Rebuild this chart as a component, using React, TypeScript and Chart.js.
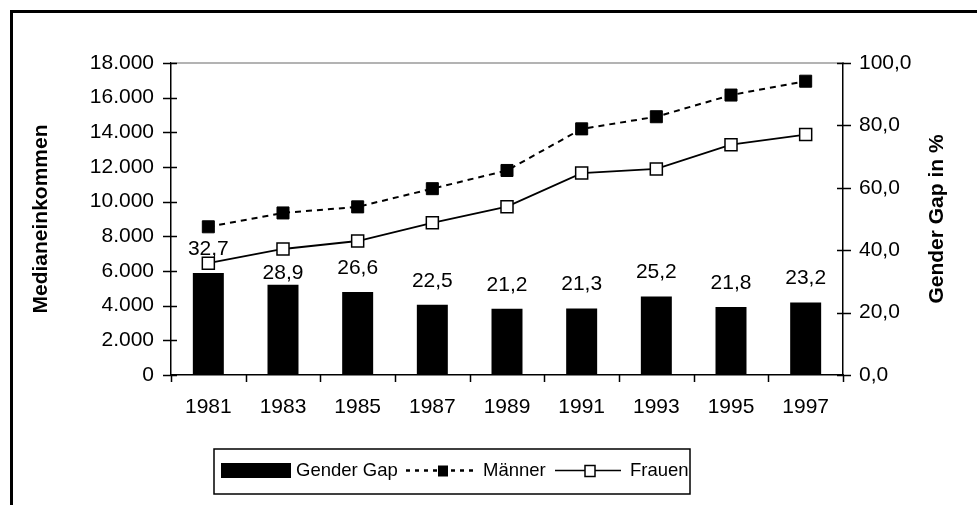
import React, { useEffect, useRef } from "react";
import { Chart, registerables } from "chart.js";

Chart.register(...registerables);

// ---- data ----
const years = ["1981", "1983", "1985", "1987", "1989", "1991", "1993", "1995", "1997"];
const genderGap = [32.7, 28.9, 26.6, 22.5, 21.2, 21.3, 25.2, 21.8, 23.2];
const maenner = [8550, 9350, 9700, 10750, 11800, 14200, 14900, 16150, 16950];
const frauen = [6450, 7270, 7730, 8780, 9710, 11650, 11890, 13290, 13870];

const leftMin = 0;
const leftMax = 18000;
const leftStep = 2000;
const rightMin = 0;
const rightMax = 100;
const rightStep = 20;

const seriesLabels = ["Gender Gap", "Männer", "Frauen"];
const leftTitle = "Medianeinkommen";
const rightTitle = "Gender Gap in %";

const FONT = "'Liberation Sans', Arial, Helvetica, sans-serif";

const fmtLeft = (v: number) => String(Math.round(v)).replace(/\B(?=(\d{3})+(?!\d))/g, ".");
const fmtRight = (v: number) => v.toFixed(1).replace(".", ",");
const fmtGap = (v: number) => v.toFixed(1).replace(".", ",");

const decorPlugin = {
  id: "decor",
  afterDraw(chart: any) {
    const ctx = chart.ctx as CanvasRenderingContext2D;
    const ca = chart.chartArea;
    const ys = chart.scales.y;
    const y1 = chart.scales.y1;
    ctx.save();

    // outer frame
    ctx.strokeStyle = "#000";
    ctx.lineWidth = 3;
    ctx.strokeRect(11.5, 11.5, 1100, 700);

    // top grey line
    ctx.strokeStyle = "#9a9a9a";
    ctx.lineWidth = 1.5;
    ctx.beginPath();
    ctx.moveTo(ca.left, ca.top);
    ctx.lineTo(ca.right, ca.top);
    ctx.stroke();

    // tick marks
    ctx.strokeStyle = "#000";
    ctx.lineWidth = 1.5;
    ctx.beginPath();
    ys.ticks.forEach((t: any) => {
      const p = Math.round(ys.getPixelForValue(t.value)) + 0.5;
      ctx.moveTo(ca.left - 8, p);
      ctx.lineTo(ca.left + 6, p);
    });
    y1.ticks.forEach((t: any) => {
      const p = Math.round(y1.getPixelForValue(t.value)) + 0.5;
      ctx.moveTo(ca.right - 6, p);
      ctx.lineTo(ca.right + 8, p);
    });
    const n = years.length;
    const w = (ca.right - ca.left) / n;
    for (let i = 0; i <= n; i++) {
      const p = Math.round(ca.left + i * w) + 0.5;
      ctx.moveTo(p, ca.bottom);
      ctx.lineTo(p, ca.bottom + 7);
    }
    ctx.stroke();

    // axis titles
    ctx.fillStyle = "#000";
    ctx.font = `bold 21px ${FONT}`;
    ctx.textAlign = "center";
    ctx.textBaseline = "alphabetic";
    const midY = (ca.top + ca.bottom) / 2;
    ctx.save();
    ctx.translate(46.5, midY);
    ctx.rotate(-Math.PI / 2);
    ctx.fillText(leftTitle, 0, 0);
    ctx.restore();
    ctx.save();
    ctx.translate(943, midY);
    ctx.rotate(-Math.PI / 2);
    ctx.fillText(rightTitle, 0, 0);
    ctx.restore();

    // bar value labels
    const meta = chart.getDatasetMeta(0);
    ctx.font = `21px ${FONT}`;
    ctx.textBaseline = "middle";
    ctx.textAlign = "center";
    meta.data.forEach((el: any, i: number) => {
      const lift = i === 1 ? 12 : 24;
      ctx.fillText(fmtGap(genderGap[i]), el.x, el.y - lift);
    });

    // legend
    ctx.lineWidth = 1.5;
    ctx.strokeStyle = "#000";
    ctx.setLineDash([]);
    ctx.strokeRect(214, 449, 476, 45);
    const ly = 470.5;
    ctx.font = `18.5px ${FONT}`;
    ctx.textAlign = "left";
    ctx.textBaseline = "middle";
    ctx.fillStyle = "#000";
    ctx.fillRect(221, 463, 70, 15);
    ctx.fillText(seriesLabels[0], 296, ly);
    // Männer
    ctx.lineWidth = 2.5;
    ctx.setLineDash([4, 5]);
    ctx.beginPath();
    ctx.moveTo(406, ly);
    ctx.lineTo(477, ly);
    ctx.stroke();
    ctx.setLineDash([]);
    ctx.fillRect(438, ly - 5, 10, 11);
    ctx.fillText(seriesLabels[1], 483, ly);
    // Frauen
    ctx.lineWidth = 1.5;
    ctx.beginPath();
    ctx.moveTo(555, ly);
    ctx.lineTo(621, ly);
    ctx.stroke();
    ctx.fillStyle = "#fff";
    ctx.fillRect(585, ly - 5, 10, 11);
    ctx.strokeRect(585, ly - 5, 10, 11);
    ctx.fillStyle = "#000";
    ctx.fillText(seriesLabels[2], 630, ly);

    ctx.restore();
  },
};

export default function App() {
  const ref = useRef<HTMLCanvasElement | null>(null);
  useEffect(() => {
    if (!ref.current) return;
    const tickFont = { family: FONT, size: 21 };
    const chart = new Chart(ref.current, {
      type: "bar",
      data: {
        labels: years,
        datasets: [
          {
            type: "bar",
            label: seriesLabels[0],
            data: genderGap,
            yAxisID: "y1",
            backgroundColor: "#000",
            borderWidth: 0,
            barPercentage: 0.415,
            categoryPercentage: 1,
            order: 3,
          },
          {
            type: "line",
            label: seriesLabels[1],
            data: maenner,
            yAxisID: "y",
            borderColor: "#000",
            borderWidth: 2,
            borderDash: [6, 5],
            pointStyle: "rect",
            pointRadius: 8.5,
            pointBackgroundColor: "#000",
            pointBorderColor: "#000",
            pointBorderWidth: 1,
            tension: 0,
            order: 1,
          },
          {
            type: "line",
            label: seriesLabels[2],
            data: frauen,
            yAxisID: "y",
            borderColor: "#000",
            borderWidth: 1.8,
            pointStyle: "rect",
            pointRadius: 8.5,
            pointBackgroundColor: "#fff",
            pointBorderColor: "#000",
            pointBorderWidth: 1.5,
            tension: 0,
            order: 0,
          },
        ] as any,
      },
      options: {
        responsive: false,
        animation: false,
        devicePixelRatio: 1,
        layout: { padding: { top: 63, left: 0, right: 0, bottom: 0 } },
        plugins: {
          legend: { display: false },
          tooltip: { enabled: false },
        },
        scales: {
          x: {
            type: "category",
            offset: true,
            grid: { display: false, drawTicks: false, offset: true },
            border: { display: true, color: "#000", width: 1.5 },
            ticks: { color: "#000", font: tickFont, padding: 20, maxRotation: 0, autoSkip: false },
            afterFit: (s: any) => {
              s.height = 130;
            },
          },
          y: {
            position: "left",
            min: leftMin,
            max: leftMax,
            grid: { display: false, drawTicks: false },
            border: { display: true, color: "#000", width: 1.5 },
            ticks: {
              stepSize: leftStep,
              color: "#000",
              font: tickFont,
              padding: 17,
              callback: (v: any) => fmtLeft(Number(v)),
            },
            afterFit: (s: any) => {
              s.width = 171;
            },
          },
          y1: {
            position: "right",
            min: rightMin,
            max: rightMax,
            grid: { display: false, drawTicks: false },
            border: { display: true, color: "#000", width: 1.5 },
            ticks: {
              stepSize: rightStep,
              color: "#000",
              font: tickFont,
              padding: 16,
              callback: (v: any) => fmtRight(Number(v)),
            },
            afterFit: (s: any) => {
              s.width = 134;
            },
          },
        },
      } as any,
      plugins: [decorPlugin],
    });
    return () => chart.destroy();
  }, []);
  return (
    <div style={{ position: "absolute", left: 0, top: 0, width: 977, height: 505, background: "#fff" }}>
      <canvas ref={ref} width={977} height={505} style={{ display: "block" }} />
    </div>
  );
}
